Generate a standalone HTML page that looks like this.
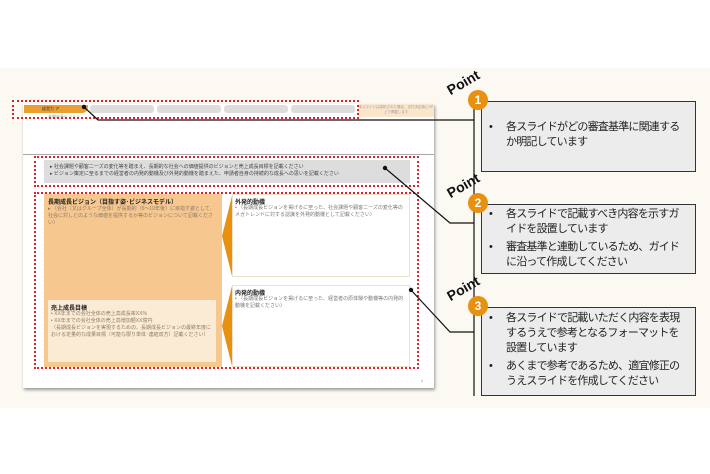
<!DOCTYPE html>
<html><head><meta charset="utf-8"><style>
body{margin:0;width:710px;height:474px;background:#fff;position:relative;overflow:hidden;font-family:"Liberation Sans","Noto Sans CJK JP",sans-serif}
.a{position:absolute;box-sizing:border-box}
.rd{border:2.5px dotted #d9232a}
.t{font-size:5px;color:#777;line-height:7px}
.pb{background:#ececec;border:1.5px solid #333;font-size:11px;letter-spacing:-0.8px;color:#222;line-height:15px;padding:4px 10px 0 24px}
.pb div{position:relative;margin-bottom:3px}
.pb div:before{content:"•";position:absolute;left:-17px}
.c{width:20px;height:20px;border-radius:50%;background:#e8900f;color:#fff;font-weight:bold;font-size:12px;text-align:center;line-height:20px}
.pt{font-weight:bold;font-size:14px;color:#111;transform:rotate(-30deg);transform-origin:left bottom}
</style></head><body>
<div class="a" style="left:0;top:68px;width:710px;height:340px;background:#fbf9f2"></div>
<div class="a" style="left:23px;top:104px;width:411px;height:284px;background:#fff;box-shadow:1px 2px 3px #999"></div>
<div class="a" style="left:24px;top:105px;width:64px;height:8px;background:#e8a030;border-radius:0 0 6px 0;font-size:4px;color:#333;padding-left:18px;line-height:8px">経営力 ア</div>
<div class="a" style="left:90px;top:105px;width:64px;height:8px;background:#ddd;border-radius:3px"></div>
<div class="a" style="left:157px;top:105px;width:64px;height:8px;background:#ddd;border-radius:3px"></div>
<div class="a" style="left:224px;top:105px;width:64px;height:8px;background:#ddd;border-radius:3px"></div>
<div class="a" style="left:291px;top:105px;width:64px;height:8px;background:#ddd;border-radius:3px"></div>
<div class="a" style="left:358px;top:104px;width:76px;height:13px;background:#fbe6cc;font-size:3.5px;color:#999;text-align:center;line-height:5px;padding-top:1px">本スライドは採択された場合、交付決定後にHP上で掲載します</div>
<div class="a t" style="left:48px;top:113px;font-size:4px;color:#999">長期成長ビジョン</div>
<div class="a" style="left:23px;top:154px;width:411px;height:1px;background:#aaa"></div>
<div class="a rd" style="left:12px;top:100px;width:347px;height:19px"></div>
<div class="a" style="left:44px;top:160px;width:366px;height:23px;background:#ddd"></div>
<div class="a t" style="left:50px;top:164px;color:#444;font-size:5px">▸ 社会課題や顧客ニーズの変化等を踏まえ、長期的な社会への価値提供のビジョンと売上成長目標を記載ください<br>▸ ビジョン策定に至るまでの経営者の内発的動機及び外発的動機を踏まえた、申請者自身の持続的な成長への思いを記載ください</div>
<div class="a rd" style="left:34px;top:156px;width:385px;height:31px"></div>
<div class="a" style="left:44px;top:194px;width:178px;height:173px;background:#f7c790"></div>
<div class="a" style="left:48px;top:300px;width:168px;height:62px;background:#fcebd4"></div>
<div class="a" style="left:48px;top:197px;width:170px;font-size:6px;font-weight:bold;color:#222">長期成長ビジョン（目指す姿･ビジネスモデル）</div>
<div class="a t" style="left:48px;top:206px;width:168px;color:#8a7a6a">▸ （会社（又はグループ全体）が長期的（5～10年後）に目指す姿として、社会に対しどのような価値を提供するか等のビジョンについて記載ください）</div>
<div class="a" style="left:51px;top:303px;font-size:6px;font-weight:bold;color:#222">売上成長目標</div>
<div class="a t" style="left:51px;top:311px;width:162px;color:#8a7a6a">• XX年までの会社全体の売上高成長率XX%<br>• XX年までの会社全体の売上高増加額XX億円<br>（長期成長ビジョンを実現するための、長期成長ビジョンの最終年度における定量的な成果目標（可能な限り単体･連結双方）記載ください）</div>
<svg class="a" style="left:220px;top:194px" width="14" height="174"><polygon points="2,42 12,2 12,82" fill="#e8900f"/><polygon points="2,132 12,92 12,172" fill="#e8900f"/></svg>
<div class="a" style="left:232px;top:194px;width:178px;height:83px;background:#fff;border:1px solid #eee2cc"></div>
<div class="a" style="left:232px;top:285px;width:178px;height:82px;background:#fff;border:1px solid #eee2cc"></div>
<div class="a" style="left:235px;top:197px;font-size:6px;font-weight:bold;color:#222">外発的動機</div>
<div class="a t" style="left:235px;top:205px;width:172px">• （長期成長ビジョンを掲げるに至った、社会課題や顧客ニーズの変化等のメガトレンドに対する認識を外発的動機として記載ください）</div>
<div class="a" style="left:235px;top:288px;font-size:6px;font-weight:bold;color:#222">内発的動機</div>
<div class="a t" style="left:235px;top:296px;width:172px">• （長期成長ビジョンを掲げるに至った、経営者の原体験や動機等の内発的動機を記載ください）</div>
<div class="a rd" style="left:34px;top:192px;width:385px;height:177px"></div>
<div class="a" style="left:421px;top:378px;font-size:4px;color:#aaa">6</div>
<svg class="a" style="left:0;top:0" width="710" height="474">
<g stroke="#111" stroke-width="1.2" fill="none">
<polyline points="84,107 98,120 474,120"/>
<polyline points="385,168 450,223 474,223"/>
<polyline points="411,290 450,332 474,332"/>
<line x1="474" y1="100" x2="474" y2="396"/>
</g>
<circle cx="84" cy="107" r="2.2" fill="#111"/><circle cx="385" cy="168" r="2.2" fill="#111"/><circle cx="411" cy="290" r="2.2" fill="#111"/>
</svg>
<div class="a pb" style="left:481px;top:101px;width:215px;height:71px;padding-top:18px"><div>各スライドがどの審査基準に関連するか明記しています</div></div>
<div class="a pb" style="left:481px;top:204px;width:215px;height:70px;padding-top:2px"><div>各スライドで記載すべき内容を示すガイドを設置しています</div><div>審査基準と連動しているため、ガイドに沿って作成してください</div></div>
<div class="a pb" style="left:481px;top:307px;width:215px;height:89px;padding-top:3px"><div>各スライドで記載いただく内容を表現するうえで参考となるフォーマットを設置しています</div><div>あくまで参考であるため、適宜修正のうえスライドを作成してください</div></div>
<div class="a c" style="left:468px;top:90px">1</div>
<div class="a c" style="left:468px;top:193px">2</div>
<div class="a c" style="left:468px;top:296px">3</div>
<div class="a pt" style="left:452px;top:82px">Point</div>
<div class="a pt" style="left:452px;top:185px">Point</div>
<div class="a pt" style="left:452px;top:288px">Point</div>
</body></html>
